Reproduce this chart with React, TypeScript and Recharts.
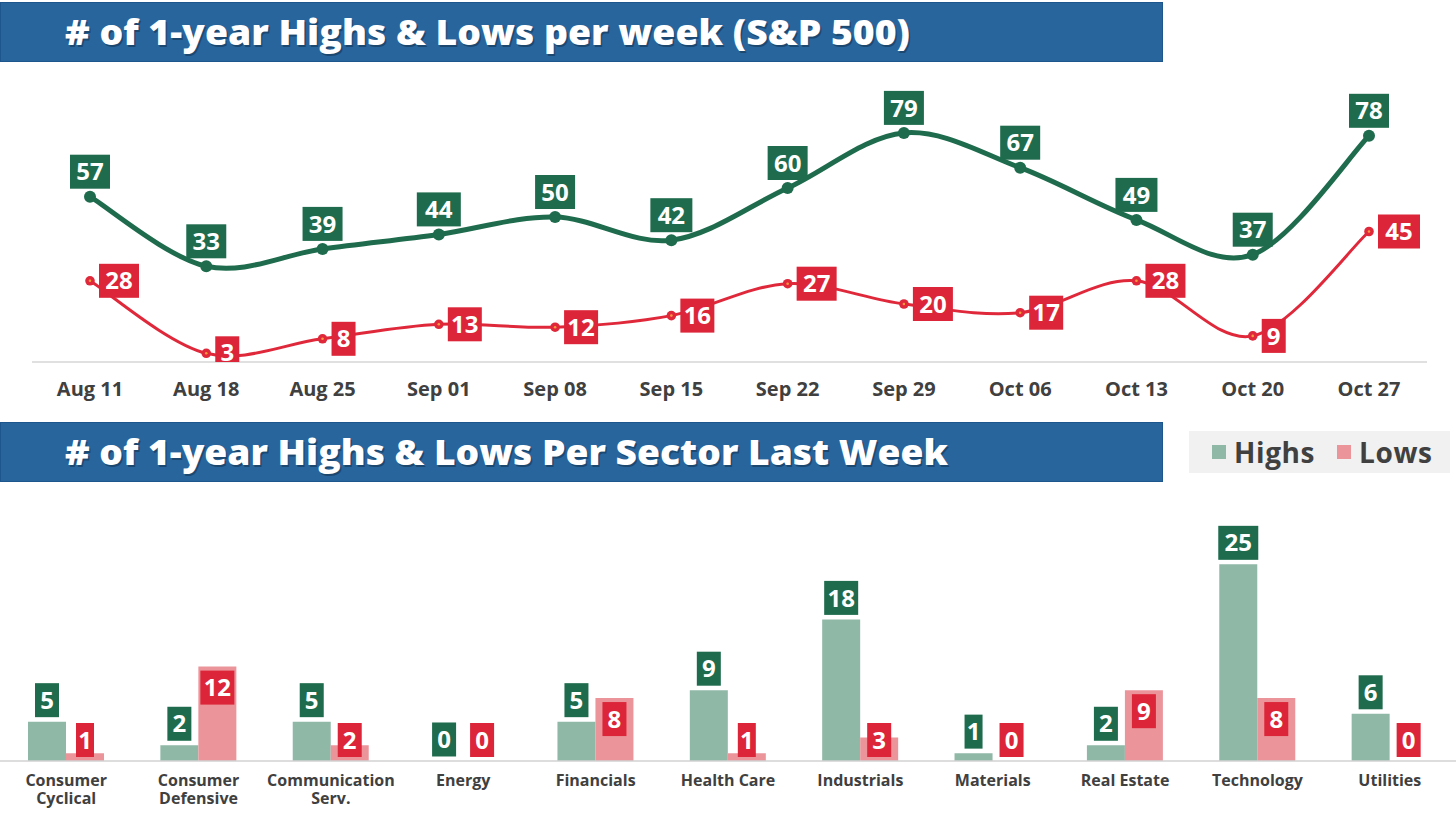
import React from 'react';
import { LineChart, Line, XAxis, YAxis, LabelList, BarChart, Bar, Legend } from 'recharts';

// ---------- data ----------
const WEEKS = ['Aug 11', 'Aug 18', 'Aug 25', 'Sep 01', 'Sep 08', 'Sep 15', 'Sep 22', 'Sep 29', 'Oct 06', 'Oct 13', 'Oct 20', 'Oct 27'];
const WEEKLY_HIGHS = [57, 33, 39, 44, 50, 42, 60, 79, 67, 49, 37, 78];
const WEEKLY_LOWS = [28, 3, 8, 13, 12, 16, 27, 20, 17, 28, 9, 45];

const SECTORS = [
  'Consumer\nCyclical',
  'Consumer\nDefensive',
  'Communication\nServ.',
  'Energy',
  'Financials',
  'Health Care',
  'Industrials',
  'Materials',
  'Real Estate',
  'Technology',
  'Utilities',
];
const SECTOR_HIGHS = [5, 2, 5, 0, 5, 9, 18, 1, 2, 25, 6];
const SECTOR_LOWS = [1, 12, 2, 0, 8, 1, 3, 0, 9, 8, 0];

const SERIES_NAMES = ['Highs', 'Lows'];
const TITLE_TOP = '# of 1-year Highs & Lows per week (S&P 500)';
const TITLE_BOTTOM = '# of 1-year Highs & Lows Per Sector Last Week';

const weeklyData = WEEKS.map((w, i) => ({ week: w, highs: WEEKLY_HIGHS[i], lows: WEEKLY_LOWS[i] }));
const sectorData = SECTORS.map((s, i) => ({ sector: s, highs: SECTOR_HIGHS[i], lows: SECTOR_LOWS[i] }));

// ---------- styles ----------
const FONT = "'Open Sans', 'DejaVu Sans', sans-serif";
const DARK_GREEN = '#1e6c4d';
const DARK_RED = '#dc2538';
const LINE_RED = '#e0283b';
const LIGHT_GREEN = '#8fb8a7';
const LIGHT_RED = '#eb959b';
const BANNER = '#28659c';
const TEXT_GRAY = '#404040';

const TOP_H = 420;
const TOP_MARGIN = { top: 72, right: 29, left: 32, bottom: 28 };
const TOP_XAXIS_H = 30;
const TOP_PLOT_BOTTOM = TOP_H - TOP_MARGIN.bottom - TOP_XAXIS_H;

const BOT_TOP = 400;
const BOT_H = 419;
const BOX_H = 34;

const boxWidth = (v: number | string) =>
  8 + String(v).split('').reduce((s, c) => s + (c === '1' ? 10 : c === '4' ? 18 : 16), 0);

function ValueBox({ cx, top, value, fill, textCenter }: { cx: number; top: number; value: any; fill: string; textCenter?: number }) {
  const w = boxWidth(value);
  const tc = textCenter === undefined ? top + BOX_H / 2 : textCenter;
  return (
    <g>
      <rect x={cx - w / 2} y={top} width={w} height={BOX_H} fill={fill} />
      <text
        x={cx}
        y={tc + 8.6}
        textAnchor="middle"
        fill="#ffffff"
        fontSize={24}
        fontWeight={700}
        fontFamily={FONT}
      >
        {value}
      </text>
    </g>
  );
}

// Excel-like smoothed line (Catmull-Rom style Bezier)
const excelCurve: any = (context: any) => {
  let pts: number[][] = [];
  return {
    areaStart() {},
    areaEnd() {},
    lineStart() {
      pts = [];
    },
    lineEnd() {
      const n = pts.length;
      if (n === 0) return;
      context.moveTo(pts[0][0], pts[0][1]);
      for (let i = 0; i < n - 1; i++) {
        const p0 = pts[i > 0 ? i - 1 : 0];
        const p1 = pts[i];
        const p2 = pts[i + 1];
        const p3 = pts[i + 2 < n ? i + 2 : n - 1];
        context.bezierCurveTo(
          p1[0] + (p2[0] - p0[0]) / 6,
          p1[1] + (p2[1] - p0[1]) / 6,
          p2[0] - (p3[0] - p1[0]) / 6,
          p2[1] - (p3[1] - p1[1]) / 6,
          p2[0],
          p2[1]
        );
      }
    },
    point(x: number, y: number) {
      pts.push([+x, +y]);
    },
  };
};

const WeekTick = (props: any) => {
  const { x, y, payload } = props;
  return (
    <text x={x} y={y + 34} textAnchor="middle" fill={TEXT_GRAY} fontSize={20} fontWeight={700} fontFamily={FONT}>
      {payload.value}
    </text>
  );
};

const SectorTick = (props: any) => {
  const { x, y, payload } = props;
  const lines = String(payload.value).split('\n');
  return (
    <g>
      {lines.map((l, i) => (
        <text
          key={i}
          x={x}
          y={y + 25 + i * 18}
          textAnchor="middle"
          fill={TEXT_GRAY}
          fontSize={16}
          fontWeight={700}
          fontFamily={FONT}
        >
          {l}
        </text>
      ))}
    </g>
  );
};

const RedDot = (props: any) => {
  const { cx, cy, index } = props;
  return (
    <g key={`rd${index}`}>
      <circle cx={cx} cy={cy} r={4.8} fill={LINE_RED} />
      <circle cx={cx} cy={cy} r={1.3} fill="#f59a3a" />
    </g>
  );
};

const HighLineLabel = (props: any) => {
  const { x, y, value } = props;
  return <ValueBox cx={x} top={y - 8 - BOX_H} value={value} fill={DARK_GREEN} />;
};

const LowLineLabel = (props: any) => {
  const { x, y, value, index } = props;
  const w = boxWidth(value);
  const id = `lowclip-${index}`;
  return (
    <g>
      <defs>
        <clipPath id={id}>
          <rect x={0} y={0} width={1456} height={TOP_PLOT_BOTTOM} />
        </clipPath>
      </defs>
      <g clipPath={`url(#${id})`}>
        <ValueBox
          cx={x + 9 + w / 2}
          top={y - BOX_H / 2}
          value={value}
          fill={DARK_RED}
          textCenter={Math.min(y, TOP_PLOT_BOTTOM - 10)}
        />
      </g>
    </g>
  );
};

const HighBarLabel = (props: any) => {
  const { x, y, width, height, value } = props;
  const bottom = Math.min(y - 4.5, y + height - 4);
  return <ValueBox cx={x + width / 2} top={bottom - BOX_H} value={value} fill={DARK_GREEN} />;
};

const LowBarLabel = (props: any) => {
  const { x, y, width, height, value } = props;
  const top = Math.min(y + 4, y + height - 4 - BOX_H);
  return <ValueBox cx={x + width / 2} top={top} value={value} fill={DARK_RED} />;
};

const LegendBox = (props: any) => {
  const payload = props.payload || [];
  return (
    <div
      style={{
        width: 261,
        height: 42,
        background: '#f1f1f1',
        display: 'flex',
        alignItems: 'center',
        boxSizing: 'border-box',
        paddingLeft: 23,
        fontFamily: FONT,
      }}
    >
      {payload.map((p: any, i: number) => (
        <div key={i} style={{ display: 'flex', alignItems: 'center', marginRight: i === 0 ? 22 : 0 }}>
          <div style={{ width: 14, height: 14, background: p.color, marginRight: 8 }} />
          <span style={{ fontSize: 28, fontWeight: 700, color: TEXT_GRAY, lineHeight: '42px', letterSpacing: 0.6 }}>
            {p.value}
          </span>
        </div>
      ))}
    </div>
  );
};

function Banner({ top, text, length }: { top: number; text: string; length: number }) {
  return (
    <svg width={1164} height={61} style={{ position: 'absolute', left: 0, top, zIndex: 2 }}>
      <rect x={0.5} y={0.5} width={1162} height={59} fill={BANNER} stroke="#1d568c" strokeWidth={1} />
      <text
        x={66.5}
        y={44.5}
        fontSize={35}
        fontWeight={800}
        fontFamily={FONT}
        fill="#000"
        opacity={0.28}
        textLength={length}
        lengthAdjust="spacingAndGlyphs"
      >
        {text}
      </text>
      <text
        x={65}
        y={43}
        fontSize={35}
        fontWeight={800}
        fontFamily={FONT}
        fill="#ffffff"
        textLength={length}
        lengthAdjust="spacingAndGlyphs"
      >
        {text}
      </text>
    </svg>
  );
}

export default function App() {
  return (
    <div style={{ position: 'relative', width: 1456, height: 819, background: '#ffffff', overflow: 'hidden' }}>
      <style>{'body{margin:0;background:#fff;}'}</style>

      <div style={{ position: 'absolute', left: 0, top: 0 }}>
        <LineChart width={1456} height={TOP_H} data={weeklyData} margin={TOP_MARGIN}>
          <XAxis
            dataKey="week"
            height={TOP_XAXIS_H}
            padding={{ left: 58, right: 58 }}
            tickLine={false}
            tickSize={0}
            tickMargin={0}
            axisLine={{ stroke: '#d6d6d6', strokeWidth: 1.5 }}
            tick={<WeekTick />}
            interval={0}
          />
          <YAxis hide domain={[0, 100]} />
          <Line
            dataKey="lows"
            name="Lows"
            type={excelCurve}
            stroke={LINE_RED}
            strokeWidth={3}
            dot={RedDot}
            activeDot={false}
            isAnimationActive={false}
          >
            <LabelList dataKey="lows" content={<LowLineLabel />} />
          </Line>
          <Line
            dataKey="highs"
            name="Highs"
            type={excelCurve}
            stroke={DARK_GREEN}
            strokeWidth={5}
            dot={{ r: 6, fill: DARK_GREEN, stroke: DARK_GREEN, strokeWidth: 0 }}
            activeDot={false}
            isAnimationActive={false}
          >
            <LabelList dataKey="highs" content={<HighLineLabel />} />
          </Line>
        </LineChart>
      </div>

      <Banner top={2} text={TITLE_TOP} length={845} />
      <Banner top={422} text={TITLE_BOTTOM} length={883} />

      <div style={{ position: 'absolute', left: 0, top: BOT_TOP }}>
        <BarChart
          width={1456}
          height={BOT_H}
          data={sectorData}
          margin={{ top: 125, right: 0, left: 0, bottom: 0 }}
          barGap={0}
        >
          <XAxis
            dataKey="sector"
            height={58}
            tickLine={false}
            tickSize={0}
            tickMargin={0}
            axisLine={{ stroke: '#d2d2d2', strokeWidth: 1.5 }}
            tick={<SectorTick />}
            interval={0}
          />
          <YAxis hide domain={[0, 30]} />
          <Legend
            layout="horizontal"
            verticalAlign="middle"
            align="center"
            wrapperStyle={{ position: 'absolute', left: 1189, top: 31, width: 261, height: 42 }}
            content={<LegendBox />}
          />
          <Bar
            dataKey="highs"
            name={SERIES_NAMES[0]}
            fill={LIGHT_GREEN}
            barSize={38}
            minPointSize={0.01}
            isAnimationActive={false}
          >
            <LabelList dataKey="highs" content={<HighBarLabel />} />
          </Bar>
          <Bar
            dataKey="lows"
            name={SERIES_NAMES[1]}
            fill={LIGHT_RED}
            barSize={38}
            minPointSize={0.01}
            isAnimationActive={false}
          >
            <LabelList dataKey="lows" content={<LowBarLabel />} />
          </Bar>
        </BarChart>
      </div>
    </div>
  );
}
